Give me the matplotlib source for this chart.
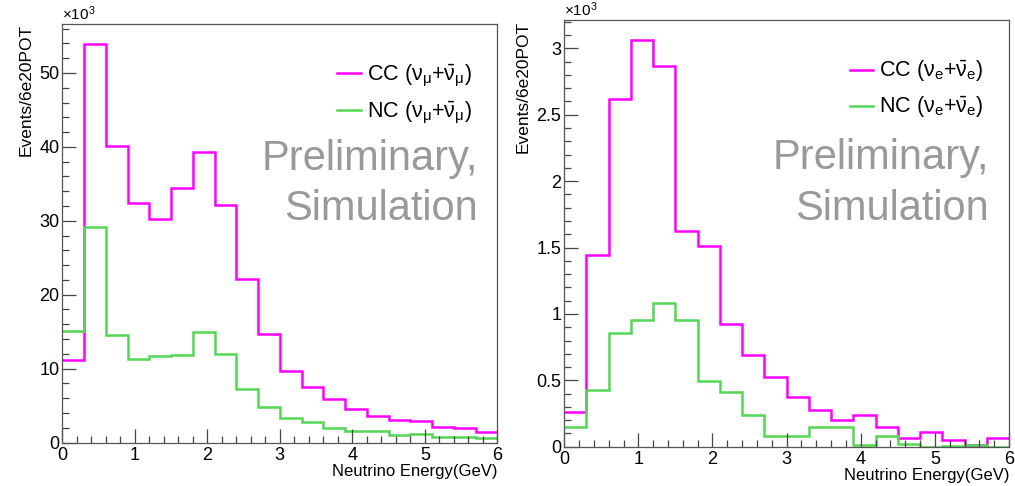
import numpy as np
import matplotlib
matplotlib.use("Agg")
import matplotlib.pyplot as plt
from matplotlib.ticker import MultipleLocator

plt.rcParams['font.family'] = ['Liberation Sans', 'DejaVu Sans']
plt.rcParams['mathtext.fontset'] = 'custom'
plt.rcParams['mathtext.rm'] = 'Liberation Sans'
plt.rcParams['mathtext.it'] = 'Liberation Sans'

# energy bins, 0.3 GeV wide
bin_edges = np.linspace(0, 6, 21)

# muon flavour, events per 6e20 POT (x10^3)
cc_numu = [11.2, 53.9, 40.1, 32.4, 30.3, 34.5, 39.3, 32.1, 22.1, 14.7,
           9.7, 7.5, 5.95, 4.6, 3.6, 3.1, 2.9, 2.1, 1.9, 1.4]
nc_numu = [15.1, 29.2, 14.5, 11.3, 11.7, 11.9, 14.9, 12.0, 7.3, 4.8,
           3.25, 2.8, 2.0, 1.5, 1.6, 0.95, 1.2, 0.7, 0.75, 0.55]

# electron flavour (x10^3)
cc_nue = [0.26, 1.445, 2.616, 3.06, 2.864, 1.628, 1.512, 0.923, 0.692, 0.527,
          0.376, 0.278, 0.198, 0.243, 0.148, 0.065, 0.11, 0.048, 0.015, 0.065]
nc_nue = [0.148, 0.426, 0.855, 0.953, 1.083, 0.953, 0.494, 0.409, 0.243, 0.083,
          0.083, 0.148, 0.148, 0.015, 0.083, 0.02, 0.0, 0.004, 0.01, 0.0]

MAGENTA = '#ff00ff'
GREEN = '#55d655'

fig = plt.figure(figsize=(10.15, 4.86), dpi=100)
ax1 = fig.add_axes([0.0614, 0.0895, 0.4286, 0.8607])
ax2 = fig.add_axes([0.5559, 0.0807, 0.4382, 0.8772])


def draw_panel(ax, cc, nc, flav, ymax, major, minor):
    ax.stairs(cc, bin_edges, baseline=None, color=MAGENTA, lw=1.8,
              label=r'CC ($\mathrm{\nu}_{%s}$+$\bar{\mathrm{\nu}}_{%s}$)' % (flav, flav))
    ax.stairs(nc, bin_edges, baseline=None, color=GREEN, lw=1.8,
              label=r'NC ($\mathrm{\nu}_{%s}$+$\bar{\mathrm{\nu}}_{%s}$)' % (flav, flav))
    ax.set_xlim(0, 6)
    ax.set_ylim(0, ymax)
    ax.xaxis.set_major_locator(MultipleLocator(1))
    ax.xaxis.set_minor_locator(MultipleLocator(0.2))
    ax.yaxis.set_major_locator(MultipleLocator(major))
    ax.yaxis.set_minor_locator(MultipleLocator(minor))
    ax.yaxis.set_major_formatter(plt.FuncFormatter(lambda v, p: '%g' % v))
    ax.tick_params(which='both', direction='in', color='#444444', labelsize=13)
    ax.tick_params(which='major', length=10, width=0.9)
    ax.tick_params(which='minor', length=5, width=0.9)
    ax.tick_params(axis='y', pad=2)
    ax.tick_params(axis='x', pad=3)
    for s in ax.spines.values():
        s.set_color('#555555')
        s.set_linewidth(0.9)
    ax.set_xlabel('Neutrino Energy(GeV)', fontsize=12, loc='right', labelpad=0)
    ax.set_ylabel('Events/6e20POT', fontsize=12.5, loc='top')
    ax.text(0, 1.003, r'$\times$10$^{3}$', transform=ax.transAxes,
            fontsize=11, ha='left', va='bottom')
    ax.legend(loc='upper right', bbox_to_anchor=(1.0, 0.97), frameon=False,
              fontsize=15.5, handlelength=1.1, handletextpad=0.25,
              labelspacing=0.5, borderaxespad=0.8)
    ax.text(0.955, 0.651, 'Preliminary,', transform=ax.transAxes,
            fontsize=30, color='#999999', ha='right', va='baseline')
    ax.text(0.955, 0.532, 'Simulation', transform=ax.transAxes,
            fontsize=30, color='#999999', ha='right', va='baseline')


draw_panel(ax1, cc_numu, nc_numu, r'\mu', 56.6, 10, 2)
draw_panel(ax2, cc_nue, nc_nue, 'e', 3.21, 0.5, 0.1)

fig.savefig('out.png', dpi=100)
